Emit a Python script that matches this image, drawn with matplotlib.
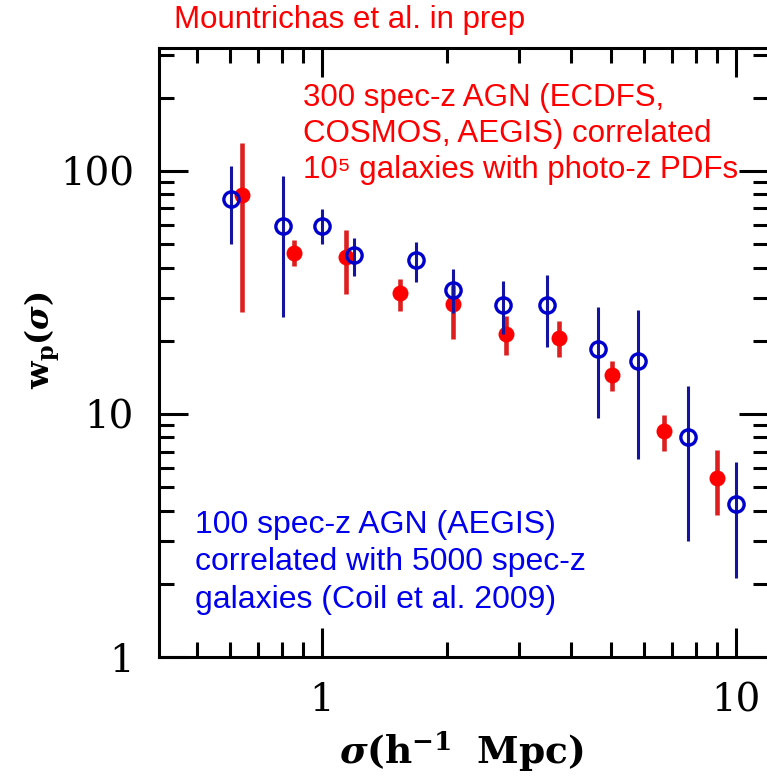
import matplotlib
matplotlib.use("Agg")
import matplotlib.pyplot as plt
from matplotlib.ticker import FixedLocator, FixedFormatter, LogLocator, NullFormatter

plt.rcParams['mathtext.fontset'] = 'dejavuserif'

# Coil et al. 2009: 100 spec-z AGN in AEGIS
coil_r = [0.603, 0.805, 1.00, 1.197, 1.684, 2.07, 2.74, 3.50, 4.63, 5.79, 7.64, 10.0]
coil_wp = [76.8, 59.5, 59.5, 45.0, 42.9, 32.2, 28.1, 28.1, 18.5, 16.5, 8.0, 4.24]
coil_hi = [104.8, 95.4, 69.7, 53.0, 51.1, 39.3, 35.2, 37.1, 27.4, 26.7, 13.0, 6.34]
coil_lo = [50.2, 25.0, 50.1, 36.9, 35.0, 26.1, 21.3, 18.9, 9.6, 6.5, 3.0, 2.11]

# Mountrichas et al.: 300 spec-z AGN vs photo-z PDF galaxies
mount_r = [0.641, 0.857, 1.141, 1.543, 2.07, 2.78, 3.74, 5.01, 6.71, 9.01]
mount_wp = [79.3, 46.0, 44.3, 31.3, 28.2, 21.4, 20.5, 14.5, 8.49, 5.47]
mount_hi = [130.6, 51.7, 57.3, 35.8, 34.0, 25.3, 24.1, 16.5, 9.9, 7.11]
mount_lo = [26.3, 40.5, 31.0, 26.5, 20.4, 17.5, 17.1, 12.4, 7.07, 3.83]

x_ticks = [1, 10]
y_ticks = [1, 10, 100]


def asym_err(vals, lo, hi):
    return [[v - l for v, l in zip(vals, lo)], [h - v for v, h in zip(vals, hi)]]


fig = plt.figure(figsize=(7.67, 7.78), dpi=100)
ax = fig.add_axes([159 / 767, 1 - 657 / 778, 609 / 767, 609 / 778])

ax.errorbar(mount_r, mount_wp, yerr=asym_err(mount_wp, mount_lo, mount_hi),
            fmt='o', color='#ff0000', ecolor='#dd1f1f', elinewidth=3.3,
            ms=11.5, mew=0, capsize=0, zorder=3)
ax.errorbar(coil_r, coil_wp, yerr=asym_err(coil_wp, coil_lo, coil_hi),
            fmt='o', mfc='none', mec='#0000cc', mew=2.4, ecolor='#1414a0',
            elinewidth=2.2, ms=11, capsize=0, zorder=4)

ax.set_xscale('log')
ax.set_yscale('log')
ax.set_xlim(0.404, 11.95)
ax.set_ylim(1.0, 320)

ax.xaxis.set_major_locator(FixedLocator(x_ticks))
ax.xaxis.set_major_formatter(FixedFormatter([str(t) for t in x_ticks]))
ax.yaxis.set_major_locator(FixedLocator(y_ticks))
ax.yaxis.set_major_formatter(FixedFormatter([str(t) for t in y_ticks]))
for axis in (ax.xaxis, ax.yaxis):
    axis.set_minor_locator(LogLocator(base=10, subs=range(2, 10)))
    axis.set_minor_formatter(NullFormatter())

ax.tick_params(which='both', direction='in', top=True, right=True, width=2.2,
               color='black')
ax.tick_params(which='major', length=21, pad=18, labelsize=28)
ax.tick_params(which='minor', length=11)
for lab in ax.get_xticklabels() + ax.get_yticklabels():
    lab.set_family('DejaVu Serif')
for sp in ax.spines.values():
    sp.set_linewidth(2.2)

fig.text(461 / 767, 1 - 752 / 778, r'$\boldsymbol{\sigma}\mathbf{(h^{-1}\ \ Mpc)}$',
         ha='center', va='center', fontsize=27)
fig.text(42 / 767, 1 - 340 / 778, r'$\mathbf{w_p(}\boldsymbol{\sigma}\mathbf{)}$',
         ha='center', va='center', fontsize=23, rotation=90)

sans = ['Liberation Sans', 'DejaVu Sans']
fig.text(174 / 767, 1 - 20 / 778, 'Mountrichas et al. in prep', color='#ff0000',
         fontsize=22.5, family=sans, ha='left', va='center')
fig.text(303 / 767, 1 - 83 / 778,
         '300 spec-z AGN (ECDFS,\nCOSMOS, AEGIS) correlated\n10⁵ galaxies with photo-z PDFs',
         color='#ff0000', fontsize=22.5, family=sans, ha='left', va='top',
         linespacing=1.27)
fig.text(195 / 767, 1 - 510 / 778,
         '100 spec-z AGN (AEGIS)\ncorrelated with 5000 spec-z\ngalaxies (Coil et al. 2009)',
         color='#0000ee', fontsize=23, family=sans, ha='left', va='top',
         linespacing=1.32)

fig.savefig('out.png', dpi=100)
